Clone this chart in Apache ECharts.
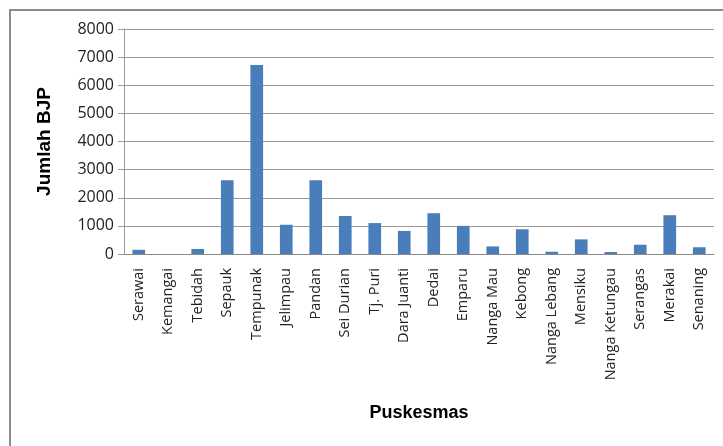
<!DOCTYPE html>
<html>
<head>
<meta charset="utf-8">
<script src="https://cdn.jsdelivr.net/npm/echarts@6/dist/echarts.min.js"></script>
<style>
  html, body { margin: 0; padding: 0; background: #fff; }
  #main { width: 723px; height: 446px; }
</style>
</head>
<body>
<div id="main"></div>
<script>
// data
var puskesmas = ['Serawai', 'Kemangai', 'Tebidah', 'Sepauk', 'Tempunak', 'Jelimpau', 'Pandan',
  'Sei Durian', 'Tj. Puri', 'Dara Juanti', 'Dedai', 'Emparu', 'Nanga Mau', 'Kebong',
  'Nanga Lebang', 'Mensiku', 'Nanga Ketungau', 'Serangas', 'Merakai', 'Senaning'];
var jumlahBJP = [150, 0, 180, 2620, 6720, 1040, 2620, 1350, 1100, 820,
  1450, 1000, 270, 880, 80, 520, 70, 330, 1380, 240];
var yTicks = [0, 1000, 2000, 3000, 4000, 5000, 6000, 7000, 8000];

var myChart = echarts.init(document.getElementById('main'));

var option = {
    animation: false,
    backgroundColor: '#ffffff',
    graphic: [{
        type: 'rect',
        shape: { x: 10, y: 10, width: 730, height: 450 },
        style: { fill: 'none', stroke: '#8c8c8c', lineWidth: 2 }
    }],
    grid: { left: 124, right: 9, top: 29, bottom: 192, containLabel: false },
    xAxis: {
        type: 'category',
        data: puskesmas,
        name: 'Puskesmas',
        nameLocation: 'middle',
        nameGap: 150,
        nameTextStyle: { fontFamily: 'Liberation Sans', fontWeight: 'bold', fontSize: 18, color: '#000' },
        axisLine: { lineStyle: { color: '#8a8a8a' } },
        axisTick: { show: false },
        axisLabel: {
            rotate: 90, interval: 0, margin: 14,
            fontFamily: 'Open Sans', fontSize: 14.5, color: '#222'
        }
    },
    yAxis: {
        type: 'value',
        min: yTicks[0],
        max: yTicks[yTicks.length - 1],
        interval: 1000,
        name: 'Jumlah BJP',
        nameLocation: 'middle',
        nameGap: 70,
        nameTextStyle: { fontFamily: 'Liberation Sans', fontWeight: 'bold', fontSize: 19, color: '#000' },
        axisLine: { show: true, lineStyle: { color: '#9a9a9a' } },
        axisTick: { show: true, length: 6, lineStyle: { color: '#9a9a9a' } },
        splitLine: { lineStyle: { color: '#9a9a9a' } },
        axisLabel: {
            margin: 10, fontFamily: 'Open Sans', fontSize: 16, color: '#222',
            formatter: function (v) { return String(v); }
        }
    },
    series: [{
        type: 'bar',
        data: jumlahBJP,
        barWidth: '43%',
        itemStyle: { color: '#4a7ebb' }
    }]
};

myChart.setOption(option);
</script>
</body>
</html>
